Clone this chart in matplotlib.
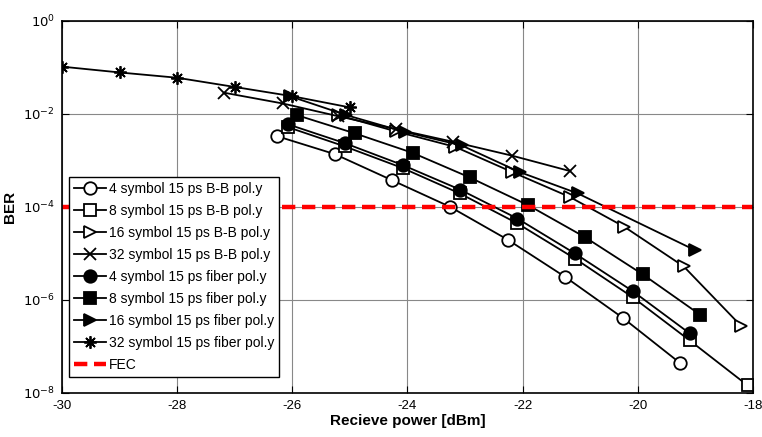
import matplotlib.pyplot as plt
from matplotlib.ticker import FixedLocator, NullLocator

plt.rcParams['font.family'] = ['Liberation Sans', 'DejaVu Sans']
plt.rcParams['axes.unicode_minus'] = False

# 4 symbol B-B
x_4bb = [-26.26, -25.26, -24.26, -23.26, -22.26, -21.26, -20.25, -19.26]
y_4bb = [3.3e-3, 1.36e-3, 3.7e-4, 1.0e-4, 1.97e-5, 3.1e-6, 4.0e-7, 4.3e-8]
# 8 symbol B-B
x_8bb = [-26.08, -25.09, -24.08, -23.09, -22.09, -21.09, -20.09, -19.1, -18.09]
y_8bb = [5.2e-3, 2.0e-3, 6.8e-4, 1.94e-4, 4.4e-5, 7.7e-6, 1.14e-6, 1.34e-7, 1.43e-8]
# 16 symbol B-B
x_16bb = [-25.2, -24.2, -23.17, -22.18, -21.18, -20.23, -19.2, -18.2]
y_16bb = [9.4e-3, 4.2e-3, 1.95e-3, 5.6e-4, 1.63e-4, 3.7e-5, 5.2e-6, 2.7e-7]
# 32 symbol B-B
x_32bb = [-27.18, -26.17, -25.2, -24.2, -23.2, -22.18, -21.18]
y_32bb = [2.85e-2, 1.68e-2, 8.9e-3, 4.7e-3, 2.5e-3, 1.26e-3, 5.9e-4]
# 4 symbol fiber
x_4f = [-26.08, -25.09, -24.08, -23.09, -22.09, -21.09, -20.09, -19.1]
y_4f = [6.0e-3, 2.35e-3, 7.9e-4, 2.36e-4, 5.6e-5, 9.9e-6, 1.54e-6, 1.9e-7]
# 8 symbol fiber
x_8f = [-25.92, -24.91, -23.91, -22.92, -21.9, -20.91, -19.91, -18.92]
y_8f = [9.4e-3, 3.8e-3, 1.45e-3, 4.3e-4, 1.08e-4, 2.2e-5, 3.5e-6, 4.8e-7]
# 16 symbol fiber
x_16f = [-26.04, -25.06, -24.05, -23.06, -22.05, -21.04, -19.0]
y_16f = [2.4e-2, 9.4e-3, 4.1e-3, 2.1e-3, 5.6e-4, 1.94e-4, 1.16e-5]
# 32 symbol fiber
x_32f = [-30, -29, -28, -27, -26, -25]
y_32f = [0.104, 0.078, 0.060, 0.038, 0.024, 0.0138]

fec = 1e-4

fig = plt.figure(figsize=(7.62, 4.37), dpi=100)
ax = fig.add_axes([0.0814, 0.1014, 0.9066, 0.8506])

st = dict(color='black', lw=1.3, ms=9, mew=1.3)
ax.plot(x_4bb, y_4bb, marker='o', mfc='white', label='4 symbol 15 ps B-B pol.y', **st)
ax.plot(x_8bb, y_8bb, marker='s', mfc='white', label='8 symbol 15 ps B-B pol.y', **st)
ax.plot(x_16bb, y_16bb, marker='>', mfc='white', label='16 symbol 15 ps B-B pol.y', **st)
ax.plot(x_32bb, y_32bb, marker='x', label='32 symbol 15 ps B-B pol.y', **st)
ax.plot(x_4f, y_4f, marker='o', mfc='black', label='4 symbol 15 ps fiber pol.y', **st)
ax.plot(x_8f, y_8f, marker='s', mfc='black', label='8 symbol 15 ps fiber pol.y', **st)
ax.plot(x_16f, y_16f, marker='>', mfc='black', label='16 symbol 15 ps fiber pol.y', **st)
ax.plot(x_32f, y_32f, marker=(8, 2, 0), label='32 symbol 15 ps fiber pol.y', **st)
ax.plot([-30, -18], [fec, fec], color='red', lw=3.2, ls=(0, (3, 1.5)), label='FEC')

ax.set_yscale('log')
ax.set_xlim(-30, -18)
ax.set_ylim(1e-8, 1e0)
ax.set_xticks(range(-30, -17, 2))
ax.yaxis.set_major_locator(FixedLocator([1e-8, 1e-6, 1e-4, 1e-2, 1e0]))
ax.yaxis.set_minor_locator(NullLocator())
ax.set_yticklabels([r'$10^{-8}$', r'$10^{-6}$', r'$10^{-4}$', r'$10^{-2}$', r'$10^{0}$'])
ax.grid(True, color='#888888', lw=0.8)
ax.tick_params(direction='in', top=True, right=True, labelsize=9.5, length=5, pad=5)
for s in ax.spines.values():
    s.set_linewidth(1.2)

ax.set_xlabel('Recieve power [dBm]', fontsize=11, fontweight='bold', labelpad=2)
ax.set_ylabel('BER', fontsize=11, fontweight='bold')

leg = ax.legend(loc='lower left', bbox_to_anchor=(0.01, 0.042), fontsize=10,
                fancybox=False, edgecolor='black', framealpha=1,
                handlelength=2.3, handletextpad=0.2, labelspacing=0.58,
                borderpad=0.35, borderaxespad=0)
leg.get_frame().set_linewidth(1.0)

fig.savefig('out.png', dpi=100)
